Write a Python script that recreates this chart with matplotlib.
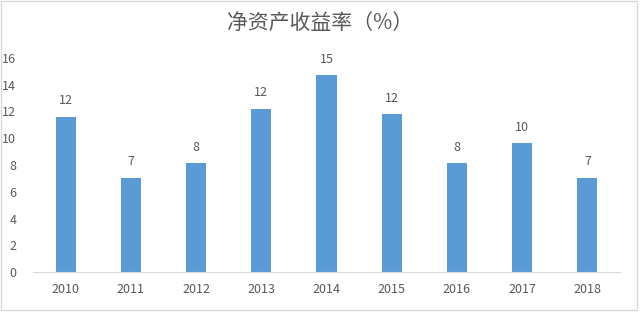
import matplotlib.pyplot as plt
from matplotlib.patches import Rectangle

plt.rcParams['font.family'] = ['Noto Sans CJK SC', 'DejaVu Sans']

anos = ['2010', '2011', '2012', '2013', '2014', '2015', '2016', '2017', '2018']
roe = [11.6, 7.05, 8.15, 12.2, 14.7, 11.8, 8.15, 9.65, 7.05]
rotulos = ['12', '7', '8', '12', '15', '12', '8', '10', '7']

cinza = '#595959'
azul = '#5B9BD5'

fig = plt.figure(figsize=(6.4, 3.12), dpi=100)
ax = fig.add_axes([33 / 640, 1 - 272 / 312, 587 / 640, 214 / 312])

x = range(len(anos))
barras = ax.bar(x, roe, width=0.31, color=azul)
for b, r in zip(barras, rotulos):
    ax.text(b.get_x() + b.get_width() / 2, b.get_height() + 0.7, r,
            ha='center', va='bottom', fontsize=9, color=cinza)

ax.set_xlim(-0.5, len(anos) - 0.5)
ax.set_ylim(0, 16)
ax.set_yticks(range(0, 17, 2))
ax.set_xticks(list(x))
ax.set_xticklabels(anos)
ax.tick_params(axis='both', length=0, labelsize=9, colors=cinza)
ax.tick_params(axis='x', pad=8)
ax.tick_params(axis='y', pad=12)

for s in ['top', 'right', 'left']:
    ax.spines[s].set_visible(False)
ax.spines['bottom'].set_color('#D9D9D9')

fig.text(0.5, 1 - 23 / 312, '净资产收益率（%）', ha='center', va='center',
         fontsize=15, color=cinza)

# moldura cinza clara em volta do gráfico
fig.patches.append(Rectangle((0.002, 0.006), 0.993, 0.99, transform=fig.transFigure,
                             fill=False, edgecolor='#D9D9D9', linewidth=1))

fig.savefig('out.png', dpi=100)
